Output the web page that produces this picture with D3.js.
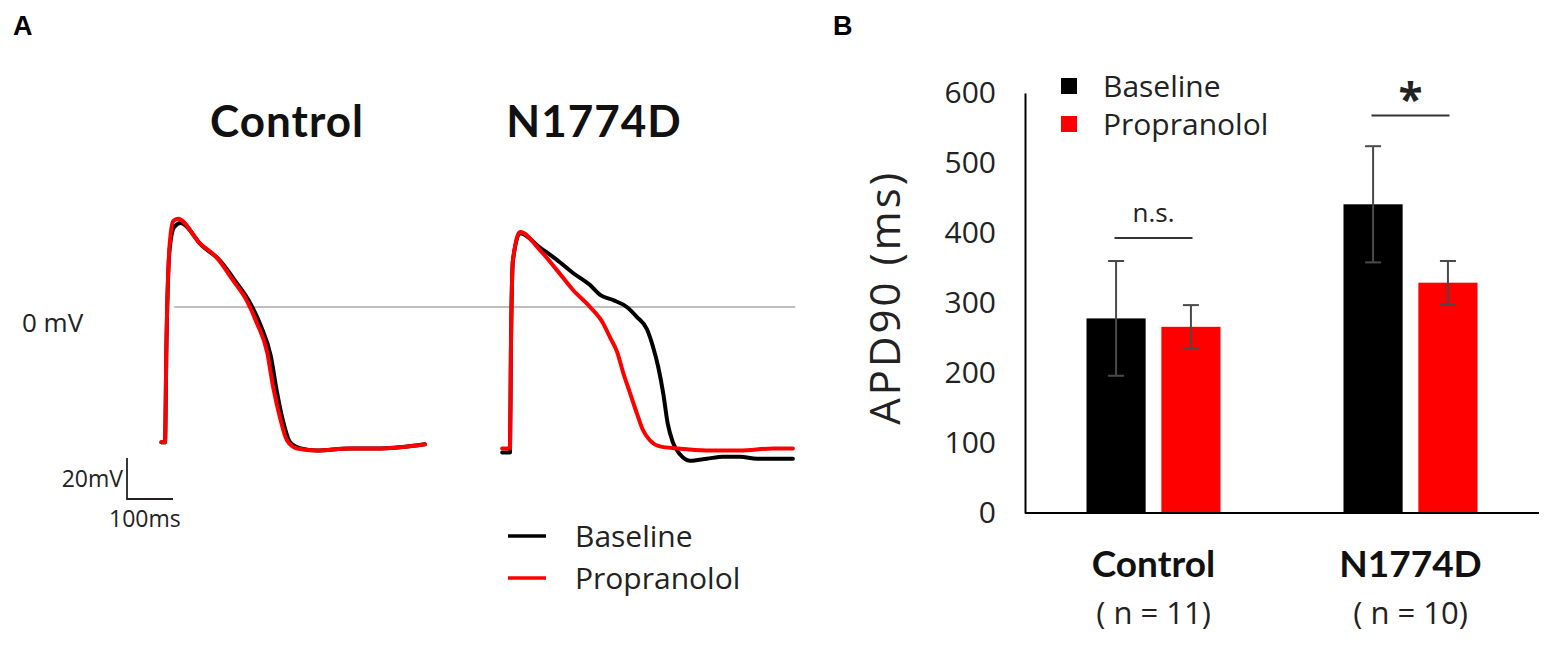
<!DOCTYPE html>
<html>
<head>
<meta charset="utf-8">
<script src="https://cdn.jsdelivr.net/npm/d3@7"></script>
<style>
  body { margin: 0; background: #fff; }
  svg { font-family: 'Open Sans', sans-serif; }
</style>
</head>
<body>
<svg id="chart" width="1550" height="660"></svg>
<script>
// panel A: action potential traces, [time (ms), membrane potential (mV)]
const controlBaseline = [
  [-8, -66], [0, -66], [3, -20], [10, 28], [20, 39], [34, 41], [80, 30], [118, 23],
  [155, 12], [185, 2], [208, -9], [230, -24], [243, -41], [257, -56], [272, -66],
  [295, -69], [330, -70], [400, -69], [470, -69], [565, -67]
]
const controlPropranolol = [
  [-8, -66], [0, -66], [3, -20], [10, 30], [18, 42], [28, 43], [76, 31], [113, 24],
  [148, 13], [178, 3], [200, -8], [222, -22], [235, -39], [250, -54], [265, -65],
  [287, -69], [330, -70], [402, -69], [474, -69], [565, -67]
]
const mutantBaseline = [
  [-17, -71], [0, -71], [2, -21], [6.5, 23], [22, 36], [65, 29], [102, 23], [137, 16.6],
  [174, 10.7], [196, 5.9], [224, 3.4], [254, 0], [276, -4.9], [298, -11], [311, -19.5],
  [322, -29], [333, -42], [343, -57], [354, -66], [370, -72], [391, -75], [428, -74],
  [463, -73], [500, -73], [537, -74], [572, -74], [615, -74]
]
const mutantPropranolol = [
  [-17, -69], [0, -69], [2, -21], [6.5, 23], [22, 36.6], [65, 27.8], [102, 18], [137, 8.3],
  [174, 0], [202, -7.8], [217, -14.6], [233, -22], [246, -32], [261, -42], [276, -52],
  [289, -60], [304, -65], [326, -68], [363, -69], [428, -70], [500, -70], [572, -69], [615, -69]
]
const traceLegend = ['Baseline', 'Propranolol']

// panel B: APD90 (ms), mean and error
const groups = ['Control', 'N1774D']
const groupN = ['( n = 11)', '( n = 10)']
const conditions = ['Baseline', 'Propranolol']
const baselineMean = [278, 441]
const baselineErr = [82, 83]
const propranololMean = [266, 329]
const propranololErr = [31, 31]
const yTicks = [0, 100, 200, 300, 400, 500, 600]
const signif = [{ label: 'n.s.', value: 393 }, { label: '*', value: 568 }]

const colors = { Baseline: '#000', Propranolol: '#f00' }
const textColor = '#222'
const boldFont = 'Lato'

const svg = d3.select('#chart')

// panel letters
svg.append('text').attr('x', 13).attr('y', 35).text('A')
  .attr('font-family', 'Liberation Sans').attr('font-weight', 'bold').attr('font-size', 27)
svg.append('text').attr('x', 833).attr('y', 35).text('B')
  .attr('font-family', 'Liberation Sans').attr('font-weight', 'bold').attr('font-size', 27)

// ---------- panel A ----------
const yA = d3.scaleLinear().domain([-80, 60]).range([307 + 80 * 2.05, 307 - 60 * 2.05])
const xCtrl = d3.scaleLinear().domain([0, 100]).range([165, 211])
const xMut = d3.scaleLinear().domain([0, 100]).range([510, 556])

const trace = (x) => d3.line().x(d => x(d[0])).y(d => yA(d[1])).curve(d3.curveMonotoneX)

// 0 mV reference line
svg.append('line')
  .attr('x1', xCtrl(20)).attr('x2', xMut(620))
  .attr('y1', yA(0)).attr('y2', yA(0))
  .attr('stroke', '#aaa').attr('stroke-width', 1.5)

svg.append('text').attr('x', 22).attr('y', yA(0) + 25)
  .attr('font-size', 26).attr('fill', textColor).text('0 mV')

const panels = [
  { title: 'Control', x: xCtrl, series: [controlBaseline, controlPropranolol], cx: 287 },
  { title: 'N1774D', x: xMut, series: [mutantBaseline, mutantPropranolol], cx: 594 }
]

panels.forEach(p => {
  svg.append('text').attr('x', p.cx).attr('y', 137)
    .attr('text-anchor', 'middle').attr('font-family', boldFont).attr('font-weight', 'bold')
    .attr('font-size', 44).attr('letter-spacing', 1).attr('fill', '#111').text(p.title)

  svg.append('g').selectAll('path').data(p.series).enter()
    .append('path')
    .attr('d', trace(p.x))
    .attr('fill', 'none')
    .attr('stroke', (d, i) => colors[traceLegend[i]])
    .attr('stroke-width', 4)
    .attr('stroke-linejoin', 'round')
    .attr('stroke-linecap', 'round')
})

// scale bar: 20 mV / 100 ms
const sbX = 127, sbY = 499
svg.append('path')
  .attr('d', `M${sbX},${sbY - (yA(0) - yA(20))}V${sbY}H${sbX + (xCtrl(100) - xCtrl(0))}`)
  .attr('stroke', textColor).attr('stroke-width', 1.8).attr('fill', 'none')
svg.append('text').attr('x', sbX - 4).attr('y', 487).attr('text-anchor', 'end')
  .attr('font-size', 23).attr('fill', textColor).text('20mV')
svg.append('text').attr('x', 109).attr('y', 527)
  .attr('font-size', 23).attr('fill', textColor).text('100ms')

// trace legend
const legA = svg.append('g').selectAll('g').data(traceLegend).enter()
  .append('g').attr('transform', (d, i) => `translate(508, ${536 + i * 42})`)
legA.append('line').attr('x1', 0).attr('x2', 38)
  .attr('stroke', d => colors[d]).attr('stroke-width', 3.5)
legA.append('text').attr('x', 67).attr('dy', '0.35em')
  .attr('font-size', 30).attr('fill', textColor).text(d => d)

// ---------- panel B ----------
const yB = d3.scaleLinear().domain([0, 600]).range([513, 93])
const xGroup = d3.scaleBand().domain(groups).range([1025, 1539])
const xCond = d3.scaleBand().domain(conditions).range([-67, 67]).paddingInner(0.21)

const bars = []
groups.forEach((g, i) => {
  bars.push({ group: g, cond: 'Baseline', mean: baselineMean[i], err: baselineErr[i] })
  bars.push({ group: g, cond: 'Propranolol', mean: propranololMean[i], err: propranololErr[i] })
})
const gx = g => xGroup(g) + xGroup.bandwidth() / 2

svg.append('g').selectAll('rect').data(bars).enter()
  .append('rect')
  .attr('x', d => gx(d.group) + xCond(d.cond))
  .attr('y', d => yB(d.mean))
  .attr('width', xCond.bandwidth())
  .attr('height', d => yB(0) - yB(d.mean))
  .attr('fill', d => colors[d.cond])

// error bars
const eb = svg.append('g').attr('stroke', '#4a4a4a').attr('stroke-width', 2)
  .selectAll('g').data(bars).enter().append('g')
  .attr('transform', d => `translate(${gx(d.group) + xCond(d.cond) + xCond.bandwidth() / 2},0)`)
eb.append('line').attr('y1', d => yB(d.mean - d.err)).attr('y2', d => yB(d.mean + d.err))
eb.append('line').attr('x1', -8).attr('x2', 8).attr('y1', d => yB(d.mean + d.err)).attr('y2', d => yB(d.mean + d.err))
eb.append('line').attr('x1', -8).attr('x2', 8).attr('y1', d => yB(d.mean - d.err)).attr('y2', d => yB(d.mean - d.err))

// axes
const yAxis = svg.append('g').attr('transform', 'translate(1025,0)')
  .call(d3.axisLeft(yB).tickValues(yTicks).tickSize(0).tickPadding(29))
yAxis.select('.domain').attr('stroke', '#000').attr('stroke-width', 2)
yAxis.selectAll('text').attr('font-family', 'Open Sans').attr('font-size', 30).attr('fill', textColor)

svg.append('line').attr('x1', 1025).attr('x2', 1539)
  .attr('y1', yB(0)).attr('y2', yB(0))
  .attr('stroke', '#000').attr('stroke-width', 2)

svg.append('text')
  .attr('transform', `translate(900, ${yB(308)}) rotate(-90)`)
  .attr('text-anchor', 'middle').attr('font-size', 42).attr('letter-spacing', 3)
  .attr('fill', textColor).text('APD90 (ms)')

// category labels
const cat = svg.append('g').selectAll('g').data(groups).enter()
  .append('g').attr('transform', d => `translate(${gx(d)},0)`)
cat.append('text').attr('y', 577).attr('text-anchor', 'middle')
  .attr('font-family', boldFont).attr('font-weight', 'bold').attr('font-size', 37)
  .attr('fill', '#111').text(d => d)
cat.append('text').attr('y', 624).attr('text-anchor', 'middle')
  .attr('font-size', 31).attr('fill', textColor).text((d, i) => groupN[i])

// significance markers
const sig = svg.append('g').selectAll('g').data(signif).enter()
  .append('g').attr('transform', (d, i) => `translate(${gx(groups[i])},0)`)
sig.append('line').attr('x1', -39).attr('x2', 39)
  .attr('y1', d => yB(d.value)).attr('y2', d => yB(d.value))
  .attr('stroke', '#333').attr('stroke-width', 2)
sig.append('text').attr('text-anchor', 'middle')
  .attr('y', d => yB(d.value) + (d.label === '*' ? 0 : -16))
  .attr('font-size', d => d.label === '*' ? 44 : 26)
  .attr('font-weight', d => d.label === '*' ? 'bold' : 'normal')
  .attr('fill', textColor)
  .text(d => d.label)

// bar legend
const legB = svg.append('g').selectAll('g').data(conditions).enter()
  .append('g').attr('transform', (d, i) => `translate(1061, ${86 + i * 38})`)
legB.append('rect').attr('x', 0).attr('y', -8).attr('width', 16).attr('height', 16)
  .attr('fill', d => colors[d])
legB.append('text').attr('x', 42).attr('dy', '0.35em')
  .attr('font-size', 30).attr('fill', textColor).text(d => d)
</script>
</body>
</html>
